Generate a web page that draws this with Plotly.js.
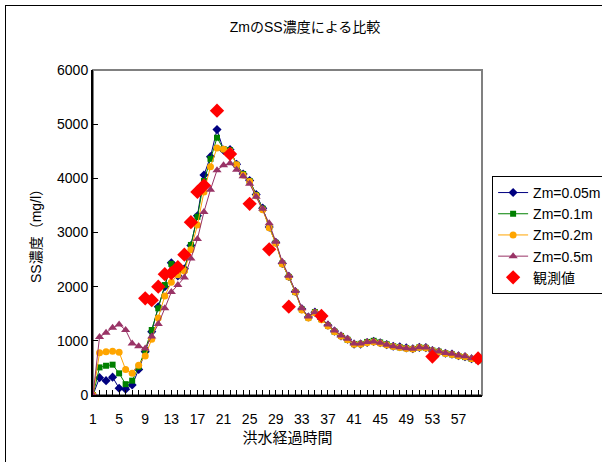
<!DOCTYPE html>
<html><head><meta charset="utf-8">
<script src="https://cdn.plot.ly/plotly-3.0.1.min.js"></script>
<style>
html,body{margin:0;padding:0;background:#fff;overflow:hidden;width:602px;height:462px;}
#frame{position:absolute;left:5px;top:5px;width:700px;height:600px;border-left:1px solid #000;border-top:1px solid #000;pointer-events:none;}
#chart{position:absolute;left:0;top:0;width:650px;height:462px;}
</style></head>
<body>
<div id="chart"></div>
<div id="frame"></div>
<script>
const hours = Array.from({length: 60}, (_, i) => i + 1);
const tickHours = [1, 5, 9, 13, 17, 21, 25, 29, 33, 37, 41, 45, 49, 53, 57];

const zm005 = [0, 320, 265, 330, 125, 105, 185, 470, 800, 1170, 1630, 2000, 2440, 2200, 2330, 2760, 3310, 4060, 4400, 4900, 4520, 4530, 4260, 4080, 3960, 3700, 3450, 3100, 2820, 2430, 2190, 1910, 1590, 1440, 1530, 1410, 1290, 1180, 1090, 1030, 940, 940, 970, 990, 965, 930, 900, 890, 870, 855, 880, 875, 820, 800, 770, 755, 725, 705, 670, 645];
const zm01 = [0, 510, 540, 560, 400, 200, 265, 520, 830, 1200, 1600, 2030, 2420, 2270, 2310, 2770, 3290, 3950, 4360, 4750, 4540, 4520, 4250, 4080, 3950, 3690, 3440, 3100, 2810, 2430, 2180, 1900, 1580, 1430, 1530, 1400, 1280, 1170, 1090, 1020, 940, 945, 980, 1000, 970, 935, 900, 880, 865, 850, 880, 870, 820, 800, 770, 750, 720, 700, 665, 640];
const zm02 = [0, 780, 800, 810, 790, 470, 400, 550, 720, 1030, 1420, 1830, 2080, 2220, 2290, 2680, 3140, 3750, 4215, 4560, 4535, 4500, 4250, 4060, 3940, 3680, 3420, 3090, 2800, 2420, 2180, 1900, 1570, 1420, 1520, 1390, 1275, 1170, 1085, 1020, 935, 935, 965, 980, 955, 925, 895, 875, 860, 850, 875, 870, 815, 795, 765, 750, 720, 705, 670, 650];
const zm05 = [0, 1070, 1150, 1240, 1300, 1200, 950, 900, 860, 1080, 1310, 1600, 1900, 2030, 2170, 2520, 2880, 3380, 3790, 4150, 4240, 4280, 4160, 4040, 3900, 3660, 3440, 3170, 2830, 2460, 2200, 1920, 1600, 1450, 1530, 1420, 1300, 1190, 1100, 1040, 950, 950, 980, 990, 965, 930, 900, 880, 865, 855, 880, 875, 825, 805, 775, 760, 730, 715, 680, 660];
const observed = [null, null, null, null, null, null, null, null, 1785, 1750, 2000, 2230, 2250, 2360, 2590, 3190, 3750, 3870, null, 5250, null, 4450, null, null, 3530, null, null, 2690, null, null, 1630, null, null, null, null, 1460, null, null, null, null, null, null, null, null, null, null, null, null, null, null, null, null, 710, null, null, null, null, null, null, 675];

const font = "Liberation Sans, Arial, 'Noto Sans CJK JP', sans-serif";

const traces = [
  {x: hours, y: zm005, name: 'Zm=0.05m', mode: 'lines+markers', line: {color: '#000080', width: 1}, marker: {symbol: 'diamond', size: 7, color: '#000080'}},
  {x: hours, y: zm01, name: 'Zm=0.1m', mode: 'lines+markers', line: {color: '#008000', width: 1}, marker: {symbol: 'square', size: 6, color: '#008000'}},
  {x: hours, y: zm02, name: 'Zm=0.2m', mode: 'lines+markers', line: {color: '#FFA500', width: 1}, marker: {symbol: 'circle', size: 7, color: '#FFA500'}},
  {x: hours, y: zm05, name: 'Zm=0.5m', mode: 'lines+markers', line: {color: '#993366', width: 1}, marker: {symbol: 'triangle-up', size: 8, color: '#993366'}},
  {x: hours, y: observed, name: '観測値', mode: 'markers', marker: {symbol: 'diamond', size: 11, color: '#FF0000'}}
];

const layout = {
  width: 650, height: 462,
  margin: {l: 93, r: 168, t: 70, b: 67},
  paper_bgcolor: '#fff', plot_bgcolor: '#fff',
  font: {family: font, size: 14, color: '#000'},
  showlegend: true,
  title: {text: 'ZmのSS濃度による比較', font: {size: 14, color: '#000'}, x: 0.545, xref: 'paper', xanchor: 'center', y: 0.942, yref: 'container', yanchor: 'middle'},
  xaxis: {
    range: [1, 60.6], showgrid: false, zeroline: false,
    tickmode: 'array', tickvals: tickHours, ticktext: tickHours.map(String),
    ticks: 'inside', ticklen: 5, tickcolor: '#000',
    minor: {dtick: 1, tick0: 1, ticks: 'inside', ticklen: 5, tickcolor: '#000', showgrid: false},
    showline: true, linecolor: '#000', linewidth: 1.5,
    tickfont: {size: 14}, ticklabelstandoff: 11,
    title: {text: '洪水経過時間', font: {size: 15}, standoff: 6}
  },
  yaxis: {
    range: [0, 6000], dtick: 1000, showgrid: false, zeroline: false,
    ticks: 'inside', ticklen: 5, tickcolor: '#000',
    showline: true, linecolor: '#000', linewidth: 2,
    tickfont: {size: 14},
    title: {text: 'SS濃度（mg/l）', font: {size: 14}, standoff: 12}
  },
  legend: {
    x: 1.026, xanchor: 'left', y: 0.674, yanchor: 'top',
    bordercolor: '#000', borderwidth: 1, bgcolor: '#fff',
    font: {size: 14}, tracegroupgap: 0
  },
  shapes: [
    {type: 'rect', xref: 'paper', yref: 'paper', x0: 0, x1: 1, y0: 0, y1: 1, line: {color: '#808080', width: 2}, layer: 'below'}
  ]
};

Plotly.newPlot('chart', traces, layout, {displayModeBar: false, staticPlot: true});
</script>
</body></html>
